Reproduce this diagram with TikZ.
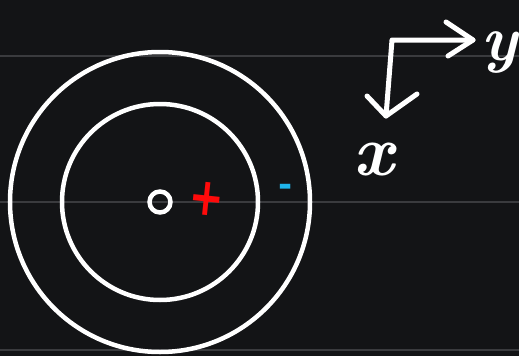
\documentclass[tikz,border=0pt]{standalone}
\usepackage{fontspec}
\newfontfamily\dejab{DejaVu Sans Bold}
\usetikzlibrary{calc}
\definecolor{bg}{HTML}{131416}
\definecolor{grid}{HTML}{3A3B3E}
\definecolor{chred}{HTML}{FF0A0A}
\definecolor{chblue}{HTML}{1FB4EA}
\tikzset{
  ring/.style={draw=white,line width=4.5pt},
  gridline/.style={draw=grid,line width=2pt},
  axis/.style={draw=white,line width=5pt,line cap=round,line join=round},
  lbl/.style={text=white,inner sep=0pt,font=\fontsize{72}{72}\selectfont\bfseries\itshape},
}
\begin{document}
\begin{tikzpicture}[x=1pt,y=-1pt]
\fill[bg] (0,0) rectangle (519,356);
\useasboundingbox (0,0) rectangle (519,356);
\draw[gridline] (0,56) -- (519,56);
\draw[gridline] (0,202) -- (519,202);
\draw[gridline] (0,350) -- (519,350);
\coordinate (c) at (160,202);
\node[ring,circle,minimum size=300pt,inner sep=0pt] (outer) at (c) {};
\node[ring,circle,minimum size=196pt,inner sep=0pt] (inner) at (c) {};
\node[draw=white,line width=4.5pt,circle,minimum size=21pt,inner sep=0pt] (core) at (c) {};
\node[text=chred,inner sep=0pt,font=\dejab\fontsize{42}{42}\selectfont,rotate=-6,yscale=1.25] (plus) at (207,199) {+};
\node[text=chblue,inner sep=0pt,font=\dejab\fontsize{34}{34}\selectfont] (minus) at (286,190) {-};
\coordinate (corner) at (392,40);
\coordinate (ytip) at (473,40);
\coordinate (xtip) at (386,116);
\draw[axis] (ytip) -- (corner) -- (xtip);
\draw[axis] ($(ytip)+(-27,-18)$) -- (ytip) -- ($(ytip)+(-25,16)$);
\draw[axis] ($(xtip)+(-19,-20)$) -- (xtip) -- ($(xtip)+(31,-22)$);
\node[lbl] (xl) at (374,160) {x};
\node[lbl,font=\fontsize{64}{64}\selectfont\bfseries\itshape] (yl) at (499,52) {y};
\end{tikzpicture}
\end{document}
